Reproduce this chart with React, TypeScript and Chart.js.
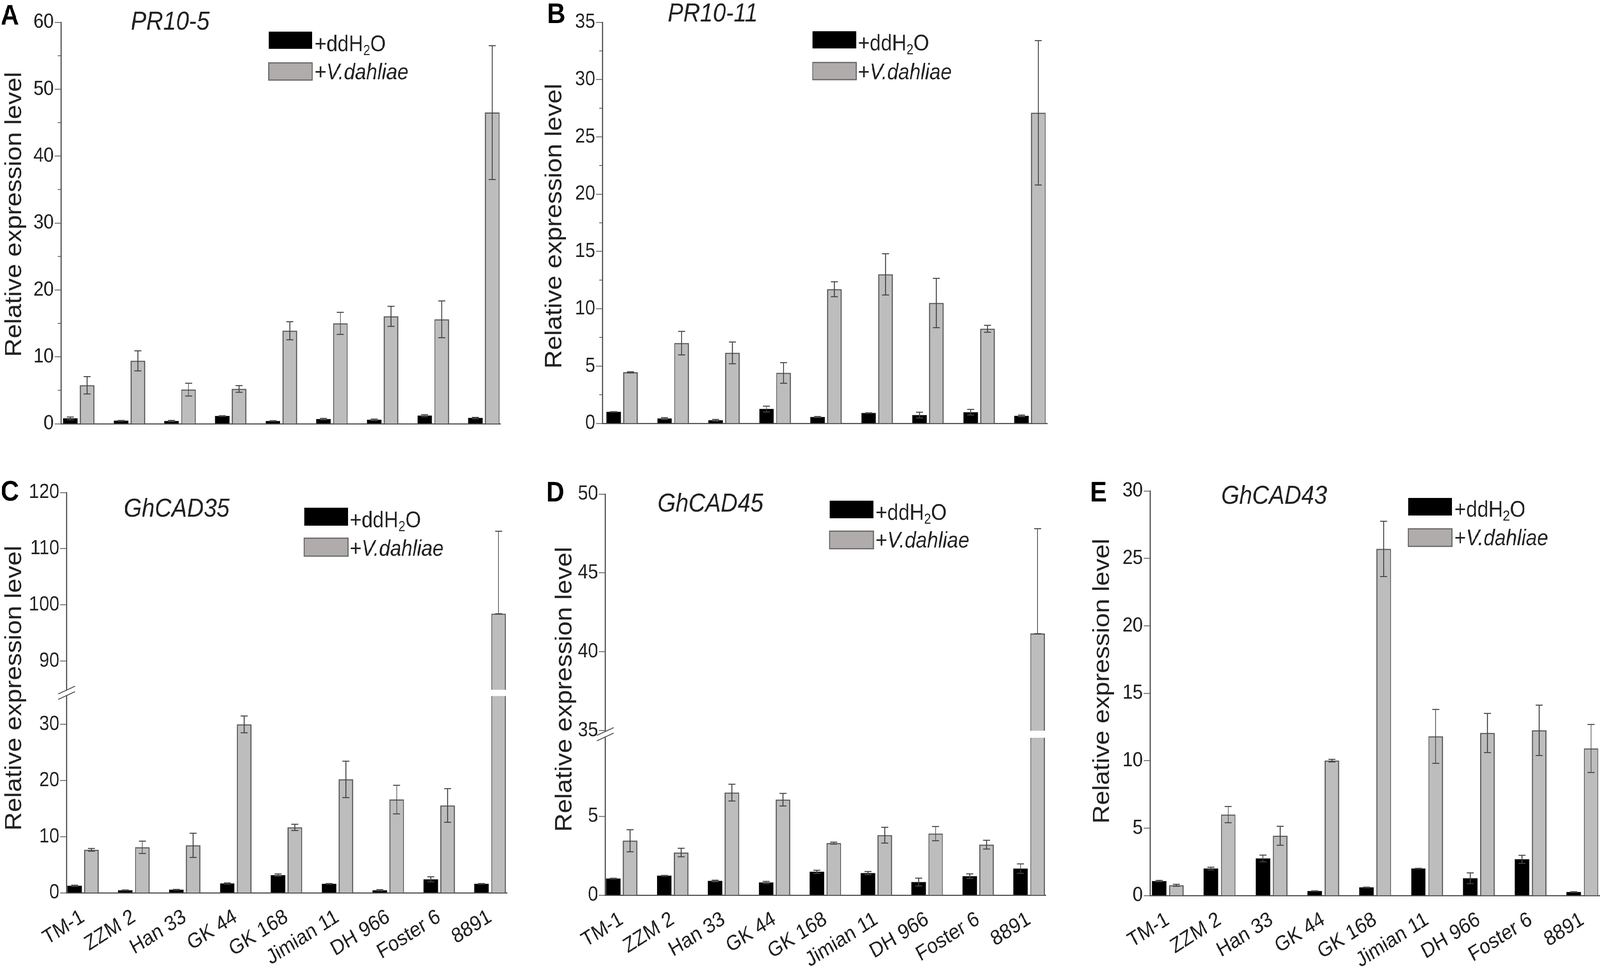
import { useEffect, useRef } from "react";
import Chart from "chart.js/auto";

const cultivars = ["TM-1", "ZZM 2", "Han 33", "GK 44", "GK 168", "Jimian 11", "DH 966", "Foster 6", "8891"];

// A - PR10-5
const pr105Water = [0.8, 0.45, 0.4, 1.15, 0.4, 0.7, 0.6, 1.2, 0.85];
const pr105WaterErr = [0.2, 0.05, 0.1, 0.05, 0.05, 0.1, 0.1, 0.15, 0.1];
const pr105Vd = [5.75, 9.4, 5.1, 5.2, 13.9, 15, 16.05, 15.6, 46.5];
const pr105VdErr = [1.3, 1.5, 0.95, 0.5, 1.35, 1.65, 1.5, 2.75, 10];
const pr105Ticks = [0, 10, 20, 30, 40, 50, 60];
const pr105Minor = [5, 15, 25, 35, 45, 55];

// B - PR10-11
const pr1011Water = [1.0, 0.42, 0.27, 1.25, 0.55, 0.9, 0.72, 0.97, 0.65];
const pr1011WaterErr = [0.02, 0.08, 0.07, 0.25, 0.05, 0.02, 0.25, 0.25, 0.07];
const pr1011Vd = [4.45, 7.0, 6.15, 4.4, 11.7, 13.0, 10.5, 8.25, 27.1];
const pr1011VdErr = [0.05, 1.03, 0.95, 0.9, 0.65, 1.8, 2.15, 0.3, 6.3];
const pr1011Ticks = [0, 5, 10, 15, 20, 25, 30, 35];
const pr1011Minor = [2.5, 7.5, 12.5, 17.5, 22.5, 27.5, 32.5];

// C - GhCAD35
const cad35Water = [1.25, 0.45, 0.55, 1.65, 3.15, 1.6, 0.45, 2.4, 1.6];
const cad35WaterErr = [0.1, 0.05, 0.05, 0.1, 0.2, 0.05, 0.1, 0.45, 0.05];
const cad35Vd = [7.65, 8.1, 8.45, 30, 11.65, 20.2, 16.6, 15.55, 98.4];
const cad35VdErr = [0.25, 1.1, 2.15, 1.5, 0.55, 3.25, 2.55, 3.0, 14.7];
const cad35VdErrLow = [0.25, 1.1, 2.15, 1.5, 0.55, 3.25, 2.55, 3.0, 0];
const cad35Ticks = [0, 10, 20, 30, 90, 100, 110, 120];

// D - GhCAD45
const cad45Water = [1.05, 1.23, 0.9, 0.8, 1.48, 1.4, 0.83, 1.2, 1.68];
const cad45WaterErr = [0.02, 0.02, 0.05, 0.07, 0.1, 0.1, 0.25, 0.15, 0.3];
const cad45Vd = [3.45, 2.7, 6.5, 6.05, 3.3, 3.8, 3.9, 3.2, 41.15];
const cad45VdErr = [0.7, 0.27, 0.53, 0.4, 0.06, 0.5, 0.45, 0.28, 6.65];
const cad45VdErrLow = [0.7, 0.27, 0.53, 0.4, 0.06, 0.5, 0.45, 0.28, 0];
const cad45Ticks = [0, 5, 35, 40, 45, 50];

// E - GhCAD43
const cad43Water = [1.07, 2.0, 2.75, 0.33, 0.6, 2.0, 1.28, 2.68, 0.26];
const cad43WaterErr = [0.05, 0.1, 0.25, 0.02, 0.02, 0.02, 0.4, 0.3, 0.02];
const cad43Vd = [0.76, 6.0, 4.43, 10.0, 25.7, 11.8, 12.05, 12.25, 10.9];
const cad43VdErr = [0.07, 0.6, 0.7, 0.1, 2.05, 2.0, 1.45, 1.87, 1.78];
const cad43Ticks = [0, 5, 10, 15, 20, 25, 30];

const FONT = '"Liberation Sans", Arial, sans-serif';
const INK = "#222222";
const AXIS = "#555555";
const PAGE_W = 4550;
const PAGE_H = 2476;

// the two broken axes are squeezed between the lower and the upper part
const cad35Axis = (v: number) => (v <= 60 ? v : v - 48.7);
const cad45Axis = (v: number) => (v <= 20 ? v : v - 24.57);
const plainAxis = (v: number) => v;

interface Panel {
  box: number[]; // canvas x, y, w, h on the page
  axisX: number;
  topY: number;
  zeroY: number;
  rightX: number;
  firstX: number;
  pitch: number;
  barW: number;
  barGap: number;
  letter: string;
  letterPos: number[];
  title: string;
  titlePos: number[];
  ylabelPos: number[];
  legend: number[]; // box x, box w, box h, black y, grey y, text x, base 1, base 2
  water: number[];
  waterErr: number[];
  vd: number[];
  vdErr: number[];
  vdErrLow?: number[];
  ticks: number[];
  minor?: number[];
  toAxis: (v: number) => number;
  breakAt?: number;
  breakH?: number;
  showLabels: boolean;
}

const panels: Panel[] = [
  {
    box: [0, 0, 1500, 1200], axisX: 173, topY: 57, zeroY: 1085, rightX: 1423, firstX: 224, pitch: 144, barW: 41, barGap: 48,
    letter: "A", letterPos: [2, 63], title: "PR10-5", titlePos: [372, 76], ylabelPos: [60, 549],
    legend: [764, 124, 44, 81, 161, 895, 131, 203],
    water: pr105Water, waterErr: pr105WaterErr, vd: pr105Vd, vdErr: pr105VdErr, ticks: pr105Ticks, minor: pr105Minor,
    toAxis: plainAxis, showLabels: false,
  },
  {
    box: [1500, 0, 1500, 1200], axisX: 1713, topY: 57, zeroY: 1084, rightX: 2978, firstX: 1769, pitch: 145, barW: 41, barGap: 48,
    letter: "B", letterPos: [1556, 59], title: "PR10-11", titlePos: [1899, 55], ylabelPos: [1596, 579],
    legend: [2311, 124, 44, 80, 160, 2440, 129, 203],
    water: pr1011Water, waterErr: pr1011WaterErr, vd: pr1011Vd, vdErr: pr1011VdErr, ticks: pr1011Ticks, minor: pr1011Minor,
    toAxis: plainAxis, showLabels: false,
  },
  {
    box: [0, 1200, 1500, 1276], axisX: 189, topY: 1261, zeroY: 2286, rightX: 1442, firstX: 236, pitch: 144.7, barW: 41, barGap: 48,
    letter: "C", letterPos: [2, 1282], title: "GhCAD35", titlePos: [352, 1323], ylabelPos: [60, 1762],
    legend: [865, 125, 46, 1300, 1378, 995, 1350, 1423],
    water: cad35Water, waterErr: cad35WaterErr, vd: cad35Vd, vdErr: cad35VdErr, vdErrLow: cad35VdErrLow, ticks: cad35Ticks,
    toAxis: cad35Axis, breakAt: 35.6, breakH: 16, showLabels: true,
  },
  {
    box: [1500, 1200, 1500, 1276], axisX: 1721, topY: 1265, zeroY: 2292, rightX: 2974, firstX: 1768, pitch: 144.8, barW: 41, barGap: 48,
    letter: "D", letterPos: [1553, 1284], title: "GhCAD45", titlePos: [1870, 1310], ylabelPos: [1625, 1765],
    legend: [2359, 125, 45, 1282, 1360, 2490, 1331, 1402],
    water: cad45Water, waterErr: cad45WaterErr, vd: cad45Vd, vdErr: cad45VdErr, vdErrLow: cad45VdErrLow, ticks: cad45Ticks,
    toAxis: cad45Axis, breakAt: 10.2, breakH: 18, showLabels: true,
  },
  {
    box: [3000, 1200, 1550, 1276], axisX: 3270, topY: 1257, zeroY: 2293, rightX: 4549, firstX: 3321, pitch: 147.4, barW: 41, barGap: 49,
    letter: "E", letterPos: [3100, 1284], title: "GhCAD43", titlePos: [3473, 1290], ylabelPos: [3154, 1744],
    legend: [4005, 124, 45, 1275, 1354, 4136, 1323, 1396],
    water: cad43Water, waterErr: cad43WaterErr, vd: cad43Vd, vdErr: cad43VdErr, ticks: cad43Ticks,
    toAxis: plainAxis, showLabels: true,
  },
];

// error bars, minor ticks, axis break, legend and panel texts
const panelPlugin = (p: Panel) => ({
  id: "panelExtras",
  afterDatasetsDraw(chart: any) {
    const ctx = chart.ctx;
    const y = chart.scales.y;
    const ox = p.box[0];
    const oy = p.box[1];
    ctx.save();

    chart.data.datasets.forEach((ds: any, d: number) => {
      chart.getDatasetMeta(d).data.forEach((bar: any, i: number) => {
        const raw = ds.raw[i];
        const hi = y.getPixelForValue(p.toAxis(raw + ds.err[i]));
        const lo = y.getPixelForValue(p.toAxis(raw - (ds.errLow ? ds.errLow[i] : ds.err[i])));
        ctx.strokeStyle = "#444444";
        ctx.lineWidth = 2.5;
        ctx.beginPath();
        ctx.moveTo(bar.x, hi);
        ctx.lineTo(bar.x, lo);
        ctx.moveTo(bar.x - 10, hi);
        ctx.lineTo(bar.x + 10, hi);
        ctx.moveTo(bar.x - 10, lo);
        ctx.lineTo(bar.x + 10, lo);
        ctx.stroke();
      });
    });

    ctx.strokeStyle = AXIS;
    ctx.lineWidth = 2;
    (p.minor || []).forEach((v) => {
      const py = y.getPixelForValue(v);
      ctx.beginPath();
      ctx.moveTo(p.axisX - ox, py);
      ctx.lineTo(p.axisX - ox - 9, py);
      ctx.stroke();
    });

    if (p.breakAt !== undefined) {
      const by = y.getPixelForValue(p.breakAt);
      const h = p.breakH || 16;
      // white cut through the tall bar
      const last = chart.getDatasetMeta(1).data[p.vd.length - 1];
      ctx.fillStyle = "#ffffff";
      ctx.fillRect(last.x - p.barW / 2 - 4, by - h / 2, p.barW + 8, h);
      // and through the axis
      ctx.fillRect(p.axisX - ox - 6, by - 6, 12, 12);
      ctx.strokeStyle = AXIS;
      ctx.lineWidth = 2.5;
      [-7, 7].forEach((dy) => {
        ctx.beginPath();
        ctx.moveTo(p.axisX - ox - 24, by + dy + 10);
        ctx.lineTo(p.axisX - ox + 24, by + dy - 10);
        ctx.stroke();
      });
    }

    // legend boxes
    const [lx, lw, lh, by1, by2, tx, b1, b2] = p.legend;
    ctx.fillStyle = "#000000";
    ctx.fillRect(lx - ox, by1 - oy, lw, lh);
    ctx.fillStyle = "#b0acac";
    ctx.strokeStyle = "#666666";
    ctx.lineWidth = 3;
    ctx.fillRect(lx - ox, by2 - oy, lw, lh);
    ctx.strokeRect(lx - ox, by2 - oy, lw, lh);

    // legend texts
    ctx.fillStyle = INK;
    ctx.textAlign = "left";
    ctx.textBaseline = "alphabetic";
    let cx = tx - ox;
    const run = (t: string, font: string, base: number) => {
      ctx.font = font;
      ctx.fillText(t, cx, base - oy);
      cx += ctx.measureText(t).width;
    };
    run("+ddH", `57px ${FONT}`, b1);
    run("2", `36px ${FONT}`, b1 + 10);
    run("O", `57px ${FONT}`, b1);
    cx = tx - ox;
    run("+", `57px ${FONT}`, b2);
    run("V.dahliae", `italic 57px ${FONT}`, b2);

    // panel letter and gene name
    ctx.font = `bold 72px ${FONT}`;
    ctx.fillStyle = "#000000";
    ctx.fillText(p.letter, p.letterPos[0] - ox, p.letterPos[1] - oy);
    ctx.font = `italic 66px ${FONT}`;
    ctx.fillStyle = INK;
    ctx.fillText(p.title, p.titlePos[0] - ox, p.titlePos[1] - oy);

    // y axis title
    ctx.translate(p.ylabelPos[0] - ox, p.ylabelPos[1] - oy);
    ctx.rotate(-Math.PI / 2);
    ctx.textAlign = "center";
    ctx.font = `66px ${FONT}`;
    ctx.fillText("Relative expression level", 0, 0);
    ctx.restore();
  },
});

const PanelChart = ({ panel }: { panel: Panel }) => {
  const canvasRef = useRef<HTMLCanvasElement | null>(null);

  useEffect(() => {
    if (!canvasRef.current) return;
    const p = panel;
    const [ox, oy, w, h] = p.box;
    const minX = (p.axisX - p.firstX) / p.pitch;
    const maxX = minX + (p.rightX - p.axisX) / p.pitch;

    const chart = new Chart(canvasRef.current, {
      type: "bar",
      data: {
        datasets: [
          {
            label: "+ddH2O",
            data: p.water.map((v, i) => ({ x: i, y: p.toAxis(v) })),
            raw: p.water,
            err: p.waterErr,
            backgroundColor: "#000000",
            borderColor: "#111111",
            borderWidth: 2,
            barThickness: p.barGap,
            maxBarThickness: p.barW,
          },
          {
            label: "+V.dahliae",
            data: p.vd.map((v, i) => ({ x: i, y: p.toAxis(v) })),
            raw: p.vd,
            err: p.vdErr,
            errLow: p.vdErrLow,
            backgroundColor: "#bdbdbd",
            borderColor: "#5c5c5c",
            borderWidth: 3,
            barThickness: p.barGap,
            maxBarThickness: p.barW,
          },
        ] as any,
      },
      options: {
        animation: false,
        responsive: false,
        devicePixelRatio: 1,
        layout: { padding: { left: 0, bottom: 0, top: p.topY - oy, right: ox + w - p.rightX } },
        plugins: { legend: { display: false }, title: { display: false }, tooltip: { enabled: false } },
        scales: {
          x: {
            type: "linear",
            offset: false,
            min: minX,
            max: maxX,
            afterFit: (s: any) => {
              s.height = oy + h - p.zeroY;
              // rotated labels must not pull the chart area in
              s.paddingLeft = 0;
              s.paddingRight = 0;
            },
            grid: { display: false, offset: false },
            border: { color: AXIS, width: 3 },
            ticks: {
              stepSize: 1,
              includeBounds: false,
              autoSkip: false,
              minRotation: 30,
              maxRotation: 30,
              padding: 22,
              color: INK,
              font: { family: FONT, size: 54 },
              callback: (v: any) => (p.showLabels ? cultivars[v] : ""),
            },
          },
          y: {
            type: "linear",
            min: 0,
            max: p.toAxis(p.ticks[p.ticks.length - 1]),
            afterFit: (s: any) => {
              s.width = p.axisX - ox;
            },
            afterBuildTicks: (s: any) => {
              s.ticks = p.ticks.map((v) => ({ value: p.toAxis(v) }));
            },
            grid: { drawOnChartArea: false, tickLength: 18, tickColor: AXIS, tickWidth: 2 },
            border: { color: AXIS, width: 3 },
            ticks: {
              autoSkip: false,
              padding: 2,
              color: INK,
              font: { family: FONT, size: 52 },
              callback: (_v: any, i: number) => String(p.ticks[i]),
            },
          },
        },
      } as any,
      plugins: [panelPlugin(p)],
    });

    return () => chart.destroy();
  }, [panel]);

  return (
    <canvas
      ref={canvasRef}
      width={panel.box[2]}
      height={panel.box[3]}
      style={{ position: "absolute", left: panel.box[0], top: panel.box[1], width: panel.box[2], height: panel.box[3] }}
    />
  );
};

export default function App() {
  // the browser window can come out narrower than the figure, so squeeze the figure to fit
  const fitX = Math.min(1, window.innerWidth / PAGE_W);
  return (
    <div style={{ position: "fixed", left: 0, top: 0, width: "100vw", height: "100vh", background: "#ffffff", overflow: "hidden" }}>
      <div style={{ position: "absolute", left: 0, top: 0, width: PAGE_W, height: PAGE_H, transformOrigin: "0 0", transform: `scaleX(${fitX})` }}>
        {panels.map((p) => (
          <PanelChart key={p.letter} panel={p} />
        ))}
      </div>
    </div>
  );
}
